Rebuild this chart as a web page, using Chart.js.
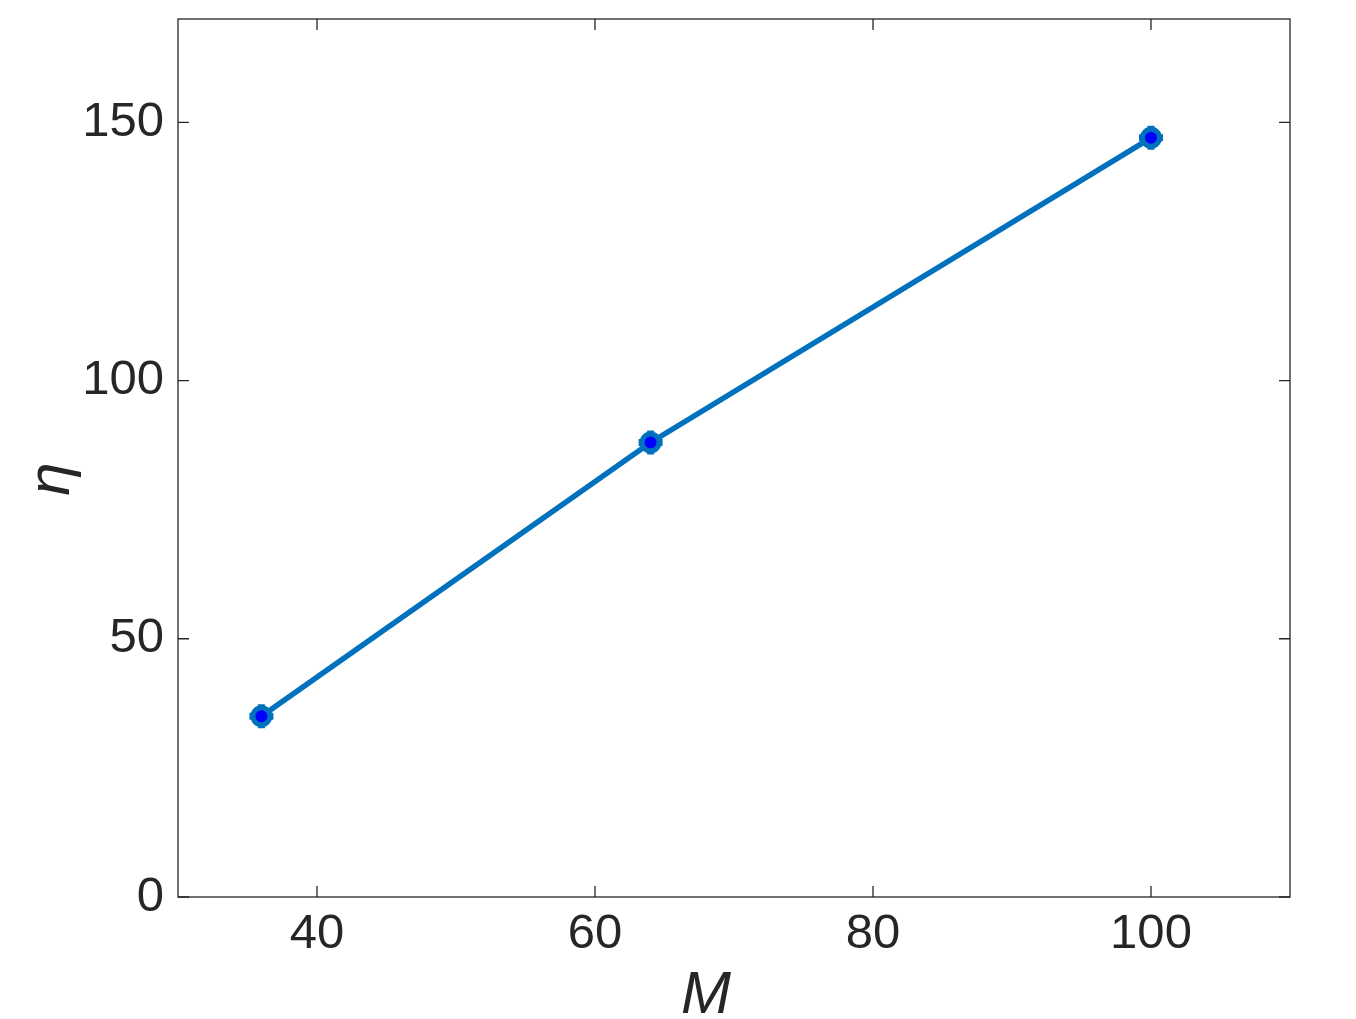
<!DOCTYPE html>
<html lang="en">
<head>
<meta charset="UTF-8">
<title>eta vs M</title>
<script src="https://cdn.jsdelivr.net/npm/chart.js"></script>
<style>
  body { margin: 0; padding: 0; background: #fff; }
  #wrap { width: 1356px; height: 1019px; }
</style>
</head>
<body>
<div id="wrap"><canvas id="chart" width="1356" height="1019"></canvas></div>
<script>
  const mValues = [36, 64, 100];
  const etaValues = [35, 88, 147];
  const xTicks = [40, 60, 80, 100];
  const yTicks = [0, 50, 100, 150];
  const xLabel = 'M';
  const yLabel = 'η';

  const ink = '#262626';
  const lineBlue = '#0072BD';
  const fontFamily = 'Liberation Sans, Arial, Helvetica, sans-serif';

  // box round the plot, ticks pointing inwards on all four sides, axis labels
  const boxTicks = {
    id: 'boxTicks',
    afterDraw(chart) {
      const ctx = chart.ctx;
      const a = chart.chartArea;
      const xs = chart.scales.x, ys = chart.scales.y;
      const len = 11;
      ctx.save();
      ctx.strokeStyle = ink;
      ctx.lineWidth = 1.3;
      ctx.strokeRect(a.left, a.top, a.right - a.left, a.bottom - a.top);
      ctx.beginPath();
      xTicks.forEach(v => {
        const px = xs.getPixelForValue(v);
        ctx.moveTo(px, a.bottom); ctx.lineTo(px, a.bottom - len);
        ctx.moveTo(px, a.top); ctx.lineTo(px, a.top + len);
      });
      yTicks.forEach(v => {
        const py = ys.getPixelForValue(v);
        ctx.moveTo(a.left, py); ctx.lineTo(a.left + len, py);
        ctx.moveTo(a.right, py); ctx.lineTo(a.right - len, py);
      });
      ctx.stroke();

      // axis labels, placed like the matlab figure (a bit left of centre for M)
      ctx.fillStyle = ink;
      ctx.font = 'italic 60px ' + fontFamily;
      ctx.textAlign = 'center';
      ctx.textBaseline = 'alphabetic';
      ctx.fillText(xLabel, (a.left + a.right) / 2 - 28, a.bottom + 116);

      ctx.translate(a.left - 109, (a.top + a.bottom) / 2 + 21);
      ctx.rotate(-Math.PI / 2);
      ctx.fillText(yLabel, 0, 0);
      ctx.restore();
    }
  };

  const ctx = document.getElementById('chart').getContext('2d');
  new Chart(ctx, {
    type: 'line',
    data: {
      datasets: [{
        data: mValues.map((m, i) => ({ x: m, y: etaValues[i] })),
        borderColor: lineBlue,
        borderWidth: 5.5,
        pointBackgroundColor: '#0000FF',
        pointBorderColor: lineBlue,
        pointBorderWidth: 5,
        pointRadius: 8.5,
        pointStyle: 'circle',
        tension: 0,
        fill: false,
        order: 1
      }, {
        // plus marker under the circle, gives the little bumps round the dots
        data: mValues.map((m, i) => ({ x: m, y: etaValues[i] })),
        showLine: false,
        pointStyle: 'cross',
        pointRadius: 12,
        pointBorderWidth: 7,
        pointBorderColor: lineBlue,
        order: 2
      }]
    },
    options: {
      responsive: false,
      animation: false,
      layout: { padding: { top: 18, right: 66, left: 0, bottom: 0 } },
      plugins: { legend: { display: false }, tooltip: { enabled: false } },
      scales: {
        x: {
          type: 'linear',
          min: 30,
          max: 110,
          afterBuildTicks: s => { s.ticks = xTicks.map(v => ({ value: v })); },
          afterFit: s => { s.height = 122; s.paddingLeft = 0; s.paddingRight = 0; },
          grid: { display: false },
          border: { display: false },
          ticks: {
            color: ink,
            padding: 0,
            font: { family: fontFamily, size: 49 }
          }
        },
        y: {
          type: 'linear',
          min: 0,
          max: 170,
          afterBuildTicks: s => { s.ticks = yTicks.map(v => ({ value: v })); },
          afterFit: s => { s.width = 178; s.paddingTop = 0; s.paddingBottom = 0; },
          grid: { display: false },
          border: { display: false },
          ticks: {
            color: ink,
            padding: 6,
            font: { family: fontFamily, size: 49 }
          }
        }
      }
    },
    plugins: [boxTicks]
  });
</script>
</body>
</html>
